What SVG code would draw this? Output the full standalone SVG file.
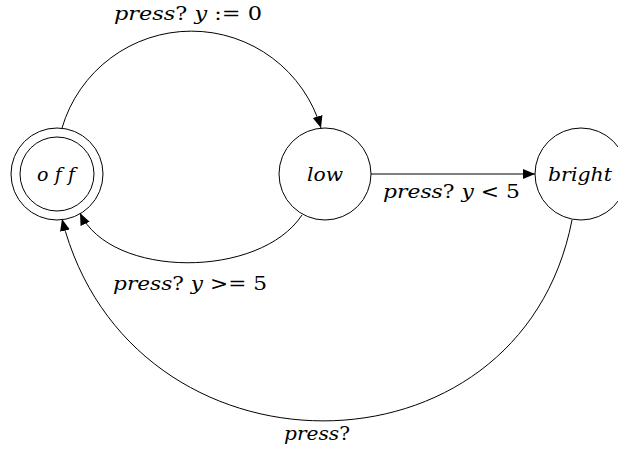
<svg xmlns="http://www.w3.org/2000/svg" width="618" height="453" viewBox="0 0 618 453">
<style>
.st{fill:none;stroke:#000;stroke-width:1}
.e{fill:none;stroke:#000;stroke-width:1;marker-end:url(#ah)}
.t{font-family:'DejaVu Serif','Liberation Serif',serif;font-size:19px;fill:#000;font-style:italic;font-variant-ligatures:none}
.u{font-style:normal}
</style>
<defs>
<marker id="ah" markerUnits="userSpaceOnUse" markerWidth="13" markerHeight="11" refX="12" refY="5.5" orient="auto" viewBox="0 0 13 11">
<path d="M0,0.5 L12,5.5 L0,10.5 Z" fill="#000"/>
</marker>
</defs>
<rect width="618" height="453" fill="#fff"/>
<g id="connectors">
<path class="e" d="M62,128 A135,135 0 0 1 321,128"/>
<path class="e" d="M371,174 L535,174"/>
<path class="e" d="M302,215 C260,279 111,279 80,213"/>
<path class="e" d="M572,220 C520,488 130,488 62,219"/>
</g>
<g id="labels">
<text class="t" x="114" y="20" textLength="148" lengthAdjust="spacingAndGlyphs">press<tspan class="u">?</tspan> y <tspan class="u">:= 0</tspan></text>
<text class="t" x="383" y="198" textLength="137" lengthAdjust="spacingAndGlyphs">press<tspan class="u">?</tspan> y <tspan class="u">&lt; 5</tspan></text>
<text class="t" x="113" y="290" textLength="154" lengthAdjust="spacingAndGlyphs">press<tspan class="u">?</tspan> y <tspan class="u">&gt;= 5</tspan></text>
<text class="t" x="284" y="440" textLength="66" lengthAdjust="spacingAndGlyphs">press<tspan class="u">?</tspan></text>
</g>
<g id="off">
<circle class="st" cx="57" cy="174" r="46"/>
<circle class="st" cx="57" cy="174" r="37"/>
<text class="t" x="37" y="181" textLength="38" lengthAdjust="spacing">off</text>
</g>
<g id="low">
<circle class="st" cx="325" cy="174" r="46"/>
<text class="t" x="307" y="181" textLength="36" lengthAdjust="spacingAndGlyphs">low</text>
</g>
<g id="bright">
<circle class="st" cx="581" cy="174" r="46"/>
<text class="t" x="548" y="181" textLength="64" lengthAdjust="spacingAndGlyphs">bright</text>
</g>
</svg>
